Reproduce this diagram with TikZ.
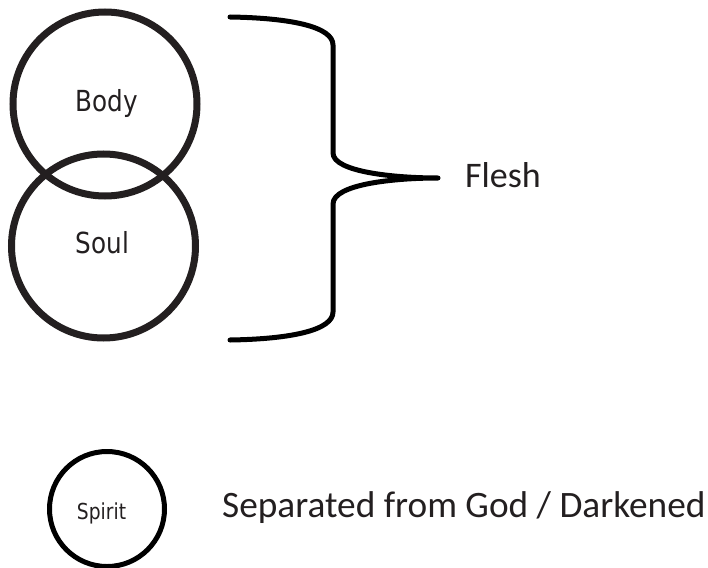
\documentclass[tikz,border=0pt]{standalone}
\usepackage{fontspec}
\setmainfont{Carlito}
\newfontfamily\tahomaish[FakeStretch=0.85]{DejaVu Sans}
\definecolor{ink}{HTML}{231F20}
\begin{document}
\begin{tikzpicture}[x=1pt,y=-1pt,
  ring/.style={circle,draw=ink,line width=7pt,inner sep=0pt,minimum size=184pt},
  smallring/.style={circle,draw=black,line width=5pt,inner sep=0pt,minimum size=115pt},
  circtext/.style={font=\tahomaish\fontsize{29}{31}\selectfont,text=ink,inner sep=0pt,anchor=base},
  bigtext/.style={font=\fontsize{36}{40}\selectfont,text=ink,inner sep=0pt,anchor=base west},
  bracestyle/.style={draw=black,line width=5pt,line cap=round,line join=round}]
\useasboundingbox (0,0) rectangle (708,567);
% circles
\node[ring] (body) at (105,104) {};
\node[ring] (soul) at (103.5,246) {};
\node[smallring] (spirit) at (107,509) {};
% labels inside circles
\node[circtext] (bodytxt) at (107,111) {Body};
\node[circtext] (soultxt) at (102.5,253) {Soul};
\node[circtext,font=\tahomaish\fontsize{22}{24}\selectfont] (spirittxt) at (101.5,519) {Spirit};
% brace
\coordinate (btop) at (230,17);
\coordinate (tip) at (438,178);
\coordinate (bbot) at (230,340);
\draw[bracestyle] (btop) .. controls (292,18) and (333,27) .. (333,45)
  -- (333,153) .. controls (333,172) and (395,178) .. (tip)
  .. controls (395,178) and (333,184) .. (333,204)
  -- (333,312) .. controls (333,330) and (292,339) .. (bbot);
% texts
\node[bigtext] (flesh) at (465,187) {Flesh};
\node[bigtext,font=\fontsize{37.3}{40}\selectfont] (sep) at (222,517) {Separated from God / Darkened};
\end{tikzpicture}
\end{document}
